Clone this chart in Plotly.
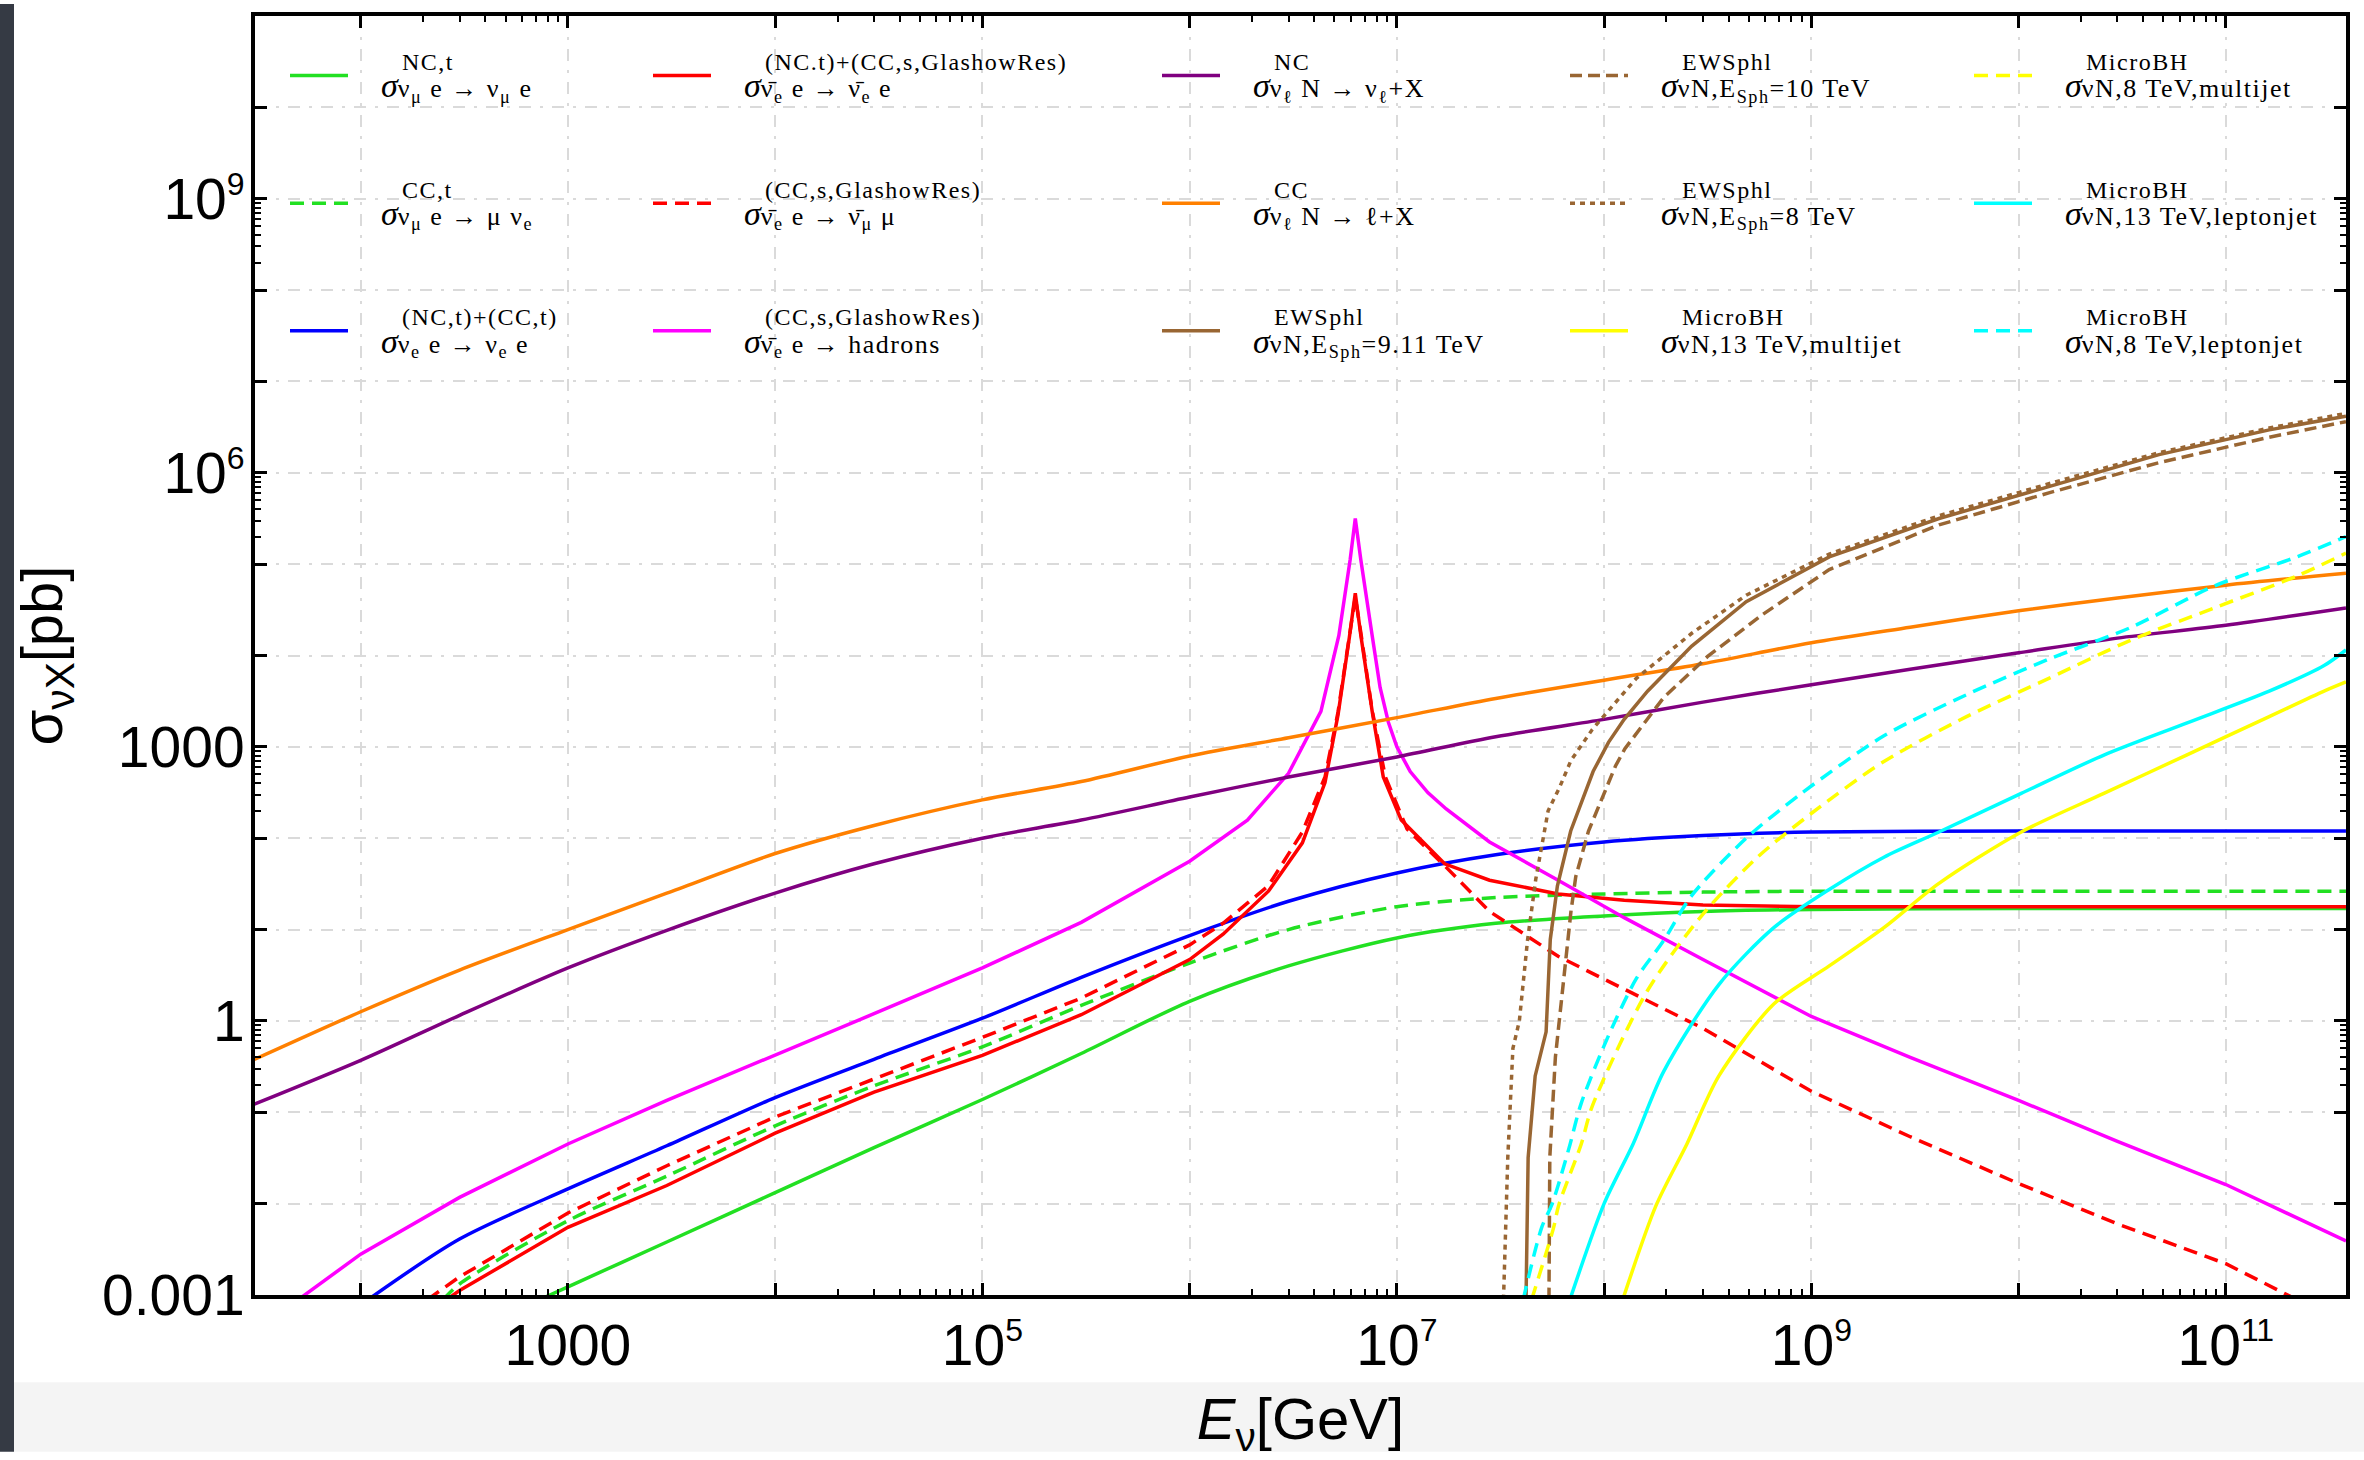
import plotly.graph_objects as go

# ---------------- data ----------------
# energies in GeV, cross sections in pb
E_grid = [30, 100, 300, 1e3, 3e3, 1e4, 3e4, 1e5, 3e5, 1e6, 3e6, 1e7, 3e7, 1e8,
          3e8, 1e9, 3e9, 1e10, 3e10, 1e11, 3.8e11]
sigma_cc_nuN = [0.37, 1.26, 3.6, 10, 25, 68, 138, 263, 417, 794, 1260, 2090,
                3390, 5370, 8130, 13800, 20400, 30900, 42700, 58900, 79400]
sigma_nc_nuN = [0.12, 0.37, 1.15, 3.8, 9.8, 25.1, 52.5, 100, 158, 282, 468, 776,
                1290, 2000, 3090, 4790, 7080, 10700, 15500, 21400, 33100]

E_nue_e = [100, 300, 1e3, 3e3, 1e4, 3e4, 1e5, 3e5, 1e6, 3e6, 1e7, 3e7, 1e8, 3e8,
           1e9, 1e10, 1e11, 3.8e11]
sigma_nue_e = [7.8e-4, 4.1e-3, 1.45e-2, 4.3e-2, 0.145, 0.38, 1.07, 3.0, 8.6, 20.4,
               41.7, 66, 91, 107, 117, 120, 120, 120]

E_numu_nc = [700, 1e3, 3e3, 1e4, 3e4, 1e5, 3e5, 1e6, 3e6, 1e7, 3e7, 1e8, 3e8, 1e9,
             1e10, 1e11, 3.8e11]
sigma_numu_nc = [8.5e-4, 1.23e-3, 3.8e-3, 1.32e-2, 4.1e-2, 0.138, 0.44, 1.64, 4.0,
                 8.1, 11.7, 14.1, 15.8, 16.6, 17.0, 17.0, 17.0]

E_numu_cc = [250, 300, 1e3, 3e3, 1e4, 3e4, 1e5, 3e5, 1e6, 3e6, 1e7, 3e7, 1e8, 3e8,
             1e9, 1e10, 1e11, 3.8e11]
sigma_numu_cc = [8.9e-4, 1.32e-3, 6.5e-3, 2.0e-2, 7.1e-2, 0.195, 0.52, 1.48, 4.3,
                 10, 17.8, 22.4, 24.5, 25.7, 26.3, 26.3, 26.3, 26.3]

E_nuebar_e = [260, 300, 1e3, 3e3, 1e4, 3e4, 1e5, 3e5, 1e6, 1.45e6, 2.4e6, 3.5e6,
              4.5e6, 5.2e6, 5.9e6, 6.3e6, 6.7e6, 7.6e6, 8.6e6, 1.05e7, 1.7e7,
              2.8e7, 6e7, 1.25e8, 3e8, 1e9, 1e10, 1e11, 3.8e11]
sigma_nuebar_e = [8.9e-4, 1.12e-3, 5.5e-3, 1.58e-2, 5.9e-2, 0.166, 0.42, 1.17, 4.7,
                  8.9, 26.3, 89, 407, 2240, 15800, 47900, 16600, 2450, 468, 158,
                  52.5, 34.7, 24.5, 20.9, 18.6, 17.8, 17.8, 17.8, 17.8]

E_nuebar_mu = [210, 300, 1e3, 3e3, 1e4, 3e4, 1e5, 3e5, 1e6, 1.45e6, 2.4e6, 3.5e6,
               4.5e6, 5.2e6, 5.9e6, 6.3e6, 6.7e6, 7.6e6, 8.8e6, 1.12e7, 1.7e7,
               2.8e7, 6e7, 1.25e8, 3e8, 1e9, 3e9, 1e10, 3e10, 1e11, 2.2e11]
sigma_nuebar_mu = [8.9e-4, 1.58e-3, 7.9e-3, 2.6e-2, 8.9e-2, 0.234, 0.66, 1.78, 6.8,
                   11.7, 30.2, 117, 468, 2400, 17800, 43700, 17800, 2510, 468, 126,
                   50, 15.8, 5.1, 2.24, 0.83, 0.17, 5.4e-2, 1.66e-2, 6.0e-3,
                   2.2e-3, 8.9e-4]

E_nuebar_had = [50, 100, 300, 1e3, 3e3, 1e4, 3e4, 1e5, 3e5, 1e6, 1.9e6, 3e6, 4.3e6,
                5.25e6, 5.95e6, 6.3e6, 6.7e6, 7.6e6, 8.3e6, 9.1e6, 1.0e7, 1.16e7,
                1.41e7, 1.73e7, 2.8e7, 6e7, 1.25e8, 3e8, 1e9, 3e9, 1e10, 3e10, 1e11,
                3.8e11]
sigma_nuebar_had = [8.9e-4, 2.8e-3, 1.17e-2, 4.5e-2, 0.135, 0.42, 1.2, 3.8, 12, 56,
                    158, 513, 2450, 16600, 1.12e5, 3.16e5, 1.12e5, 16600, 4470, 1860,
                    1000, 537, 316, 209, 91, 34.7, 13.5, 4.7, 1.12, 0.40, 0.135,
                    4.8e-2, 1.62e-2, 3.9e-3]

E_sph_911 = [4.2e7, 4.3e7, 4.65e7, 5.25e7, 5.5e7, 5.95e7, 6.9e7, 8.85e7, 1.05e8,
             1.25e8, 1.62e8, 2.64e8, 4.85e8, 1.22e9, 4.13e9, 1.4e10, 4.76e10,
             1.62e11, 3.8e11]
sigma_sph_911 = [8.9e-4, 3.2e-2, 0.25, 0.76, 7.8, 30, 120, 537, 1120, 2000, 4070,
                 12600, 38900, 1.2e5, 3.16e5, 7.08e5, 1.58e6, 2.95e6, 4.17e6]

E_sph_10 = [5.42e7, 5.47e7, 5.82e7, 6.46e7, 6.92e7, 7.3e7, 8.41e7, 1.135e8, 1.26e8,
            1.94e8, 3.16e8, 5.83e8, 1.22e9, 4.13e9, 1.4e10, 4.76e10, 1.62e11,
            3.8e11]
sigma_sph_10 = [8.9e-4, 3.2e-2, 0.4, 3.55, 15.8, 38, 120, 617, 955, 3470, 9770,
                28200, 87100, 2.69e5, 6.03e5, 1.29e6, 2.45e6, 3.63e6]

E_sph_8 = [3.27e7, 3.43e7, 3.63e7, 3.9e7, 4.27e7, 4.68e7, 5.37e7, 6.08e7, 6.92e7,
           8.77e7, 1.43e8, 2.64e8, 4.85e8, 1.22e9, 4.13e9, 1.4e10, 4.76e10,
           1.62e11, 3.8e11]
sigma_sph_8 = [8.9e-4, 3.2e-2, 0.5, 1.0, 7.6, 35.5, 200, 355, 708, 1550, 5620,
               17400, 45700, 1.29e5, 3.39e5, 7.59e5, 1.66e6, 3.09e6, 4.47e6]

E_bh13_multi = [1.23e8, 1.78e8, 2.51e8, 3.58e8, 6.59e8, 1.22e9, 2.24e9, 4.13e9,
                1.03e10, 2.58e10, 6.46e10, 1.62e11, 2.98e11, 3.8e11]
sigma_bh13_multi = [8.9e-4, 9.5e-3, 4.5e-2, 0.25, 1.53, 4.0, 10.5, 32, 117, 309,
                    813, 2140, 4070, 5130]

E_bh8_multi = [4.47e7, 5.71e7, 6.03e7, 7.76e7, 8.77e7, 1.61e8, 2.98e8, 5.5e8,
               1.01e9, 2.24e9, 5.61e9, 1.4e10, 3.5e10, 8.77e10, 2.2e11, 3.8e11]
sigma_bh8_multi = [8.9e-4, 5.5e-3, 9.5e-3, 4.5e-2, 0.117, 2.1, 14.5, 62, 190, 692,
                   2140, 5620, 14800, 33100, 74100, 1.32e5]

E_bh13_lepton = [6.84e7, 1.0e8, 1.38e8, 1.94e8, 3.58e8, 6.59e8, 1.22e9, 2.24e9,
                 4.13e9, 1.03e10, 2.58e10, 6.46e10, 1.62e11, 2.98e11, 3.8e11]
sigma_bh13_lepton = [8.9e-4, 1.0e-2, 4.5e-2, 0.28, 2.5, 10.5, 27.5, 62, 117, 309,
                     813, 1820, 4070, 7760, 11500]

E_bh8_lepton = [4.07e7, 5.0e7, 5.62e7, 6.76e7, 7.76e7, 1.05e8, 1.43e8, 1.94e8,
                2.64e8, 4.85e8, 8.95e8, 2.24e9, 5.61e9, 1.4e10, 3.5e10, 8.77e10,
                2.2e11, 3.8e11]
sigma_bh8_lepton = [8.9e-4, 5.5e-3, 1.0e-2, 4.0e-2, 0.126, 0.69, 2.9, 7.6, 23.4,
                    100, 309, 1320, 3720, 9120, 20400, 57500, 1.2e5, 2.0e5]

# tick labels (exponent -> label)
SUP = "<sup><span style='font-size:32px'>{}</span></sup>"
x_tick_labels = {3: "1000", 5: "10" + SUP.format(5), 7: "10" + SUP.format(7),
                 9: "10" + SUP.format(9), 11: "10" + SUP.format(11)}
y_tick_labels = {-3: "0.001", 0: "1", 3: "1000",
                 6: "10" + SUP.format(6), 9: "10" + SUP.format(9)}

# ---------------- styling ----------------
GREEN, RED, BLUE, MAGENTA = "#22e022", "#ff0000", "#0000ff", "#ff00ff"
PURPLE, ORANGE, BROWN = "#800080", "#ff8000", "#996633"
YELLOW, CYAN = "#ffff00", "#00ffff"
DASH = "14px,8px"
NB = "\u00a0"


def leg_label(sup, sub):
    pad = "<span style='font-size:28px'>" + NB * 4 + "</span>"
    sig_pad = "<span style='font-size:28px'>" + NB * 3 + "</span>"
    line1 = (pad + sig_pad +
             "<span style='font-size:24px;letter-spacing:1.5px'>" + sup + "</span>")
    line2 = (pad + "<span style='font-size:34px'><i>σ</i></span>"
             "<span style='font-size:26px;letter-spacing:1.5px'>" + sub + "</span>")
    return line1 + "<br>" + line2


nb_ = "ν\u0304"
series = [
    # (x, y, color, dash, legend, sup, sub, shape)
    (E_numu_nc, sigma_numu_nc, GREEN, "solid", "legend", "NC,t",
     "ν<sub>μ</sub> e → ν<sub>μ</sub> e", "spline"),
    (E_numu_cc, sigma_numu_cc, GREEN, DASH, "legend", "CC,t",
     "ν<sub>μ</sub> e → μ ν<sub>e</sub>", "spline"),
    (E_nue_e, sigma_nue_e, BLUE, "solid", "legend", "(NC,t)+(CC,t)",
     "ν<sub>e</sub> e → ν<sub>e</sub> e", "spline"),
    (E_nuebar_e, sigma_nuebar_e, RED, "solid", "legend2", "(NC.t)+(CC,s,GlashowRes)",
     nb_ + "<sub>e</sub> e → " + nb_ + "<sub>e</sub> e", "linear"),
    (E_nuebar_mu, sigma_nuebar_mu, RED, DASH, "legend2", "(CC,s,GlashowRes)",
     nb_ + "<sub>e</sub> e → " + nb_ + "<sub>μ</sub> μ", "linear"),
    (E_nuebar_had, sigma_nuebar_had, MAGENTA, "solid", "legend2", "(CC,s,GlashowRes)",
     nb_ + "<sub>e</sub> e → hadrons", "linear"),
    (E_grid, sigma_nc_nuN, PURPLE, "solid", "legend3", "NC",
     "ν<sub>ℓ</sub> N → ν<sub>ℓ</sub>+X", "spline"),
    (E_grid, sigma_cc_nuN, ORANGE, "solid", "legend3", "CC",
     "ν<sub>ℓ</sub> N → ℓ+X", "spline"),
    (E_sph_911, sigma_sph_911, BROWN, "solid", "legend3", "EWSphl",
     "νN,E<sub>Sph</sub>=9.11 TeV", "linear"),
    (E_sph_10, sigma_sph_10, BROWN, "12px,6px", "legend4", "EWSphl",
     "νN,E<sub>Sph</sub>=10 TeV", "linear"),
    (E_sph_8, sigma_sph_8, BROWN, "5px,5px", "legend4", "EWSphl",
     "νN,E<sub>Sph</sub>=8 TeV", "linear"),
    (E_bh13_multi, sigma_bh13_multi, YELLOW, "solid", "legend4", "MicroBH",
     "νN,13 TeV,multijet", "spline"),
    (E_bh8_multi, sigma_bh8_multi, YELLOW, DASH, "legend5", "MicroBH",
     "νN,8 TeV,multijet", "spline"),
    (E_bh13_lepton, sigma_bh13_lepton, CYAN, "solid", "legend5", "MicroBH",
     "νN,13 TeV,leptonjet", "spline"),
    (E_bh8_lepton, sigma_bh8_lepton, CYAN, DASH, "legend5", "MicroBH",
     "νN,8 TeV,leptonjet", "spline"),
]

fig = go.Figure()
for i, (xs, ys, col, dash, leg, sup, sub, shape) in enumerate(series):
    fig.add_trace(go.Scatter(
        x=xs, y=ys, mode="lines", name=leg_label(sup, sub),
        line=dict(color=col, width=3.5, dash=dash, shape=shape,
                  smoothing=0.8 if shape == "spline" else None),
        legend=leg, legendgroup="g%d" % i, showlegend=True,
    ))

# ---------------- layout ----------------
W, H = 2364, 1460
ML, MR, MT, MB = 255, 18, 12, 158
PW, PH = W - ML - MR, H - MT - MB


def px_x(px):
    return (px - ML) / PW


def px_y(py):
    return 1 - (py - MT) / PH


x_major = [10.0 ** k for k in range(2, 12)]
x_text = [x_tick_labels.get(k, "") for k in range(2, 12)]
x_minor = [j * 10.0 ** (k - 1) for k in x_tick_labels for j in range(2, 10)]
y_major = [10.0 ** k for k in range(-3, 12)]
y_text = [y_tick_labels.get(k, "") for k in range(-3, 12)]
y_minor = [j * 10.0 ** (k - 1) for k in y_tick_labels if k > -3 for j in range(2, 10)]

axis_common = dict(
    type="log", showline=True, linecolor="black", linewidth=4, mirror="ticks",
    ticks="inside", ticklen=12, tickwidth=2.5, tickcolor="black",
    tickfont=dict(family="Liberation Sans", size=57, color="black"),
    zeroline=False, tickmode="array",
    showgrid=True, gridcolor="#dadada", gridwidth=2, griddash="12px,9px,3px,9px",
)
minor_ticks = dict(tickmode="array", ticks="inside", ticklen=6, tickwidth=2,
                   tickcolor="black", showgrid=False)

legend_common = dict(
    xanchor="left", yanchor="top", bgcolor="rgba(0,0,0,0)", borderwidth=0,
    font=dict(family="Liberation Serif", size=21, color="black"),
    tracegroupgap=70, traceorder="grouped", itemwidth=58, itemclick=False,
)
leg_y = px_y(38)
col_x = [285, 648, 1157, 1565, 1969]

fig.update_layout(
    width=W, height=H, autosize=False,
    margin=dict(l=ML, r=MR, t=MT, b=MB, pad=0),
    paper_bgcolor="white", plot_bgcolor="white",
    font=dict(family="Liberation Sans", color="black"),
    xaxis=dict(
        range=[1.49, 11.58], tickvals=x_major, ticktext=x_text,
        ticklabelstandoff=-2,
        minor=dict(tickvals=x_minor, **minor_ticks),
        title=dict(text="<i>E</i><sub>ν</sub>[GeV]", standoff=30,
                   font=dict(family="Liberation Sans", size=58, color="black")),
        **axis_common,
    ),
    yaxis=dict(
        range=[-3, 11], tickvals=y_major, ticktext=y_text,
        ticklabelstandoff=-5,
        minor=dict(tickvals=y_minor, **minor_ticks),
        title=dict(text="σ<sub>νX</sub>[pb]", standoff=22,
                   font=dict(family="Liberation Sans", size=58, color="black")),
        **axis_common,
    ),
    legend=dict(x=px_x(col_x[0]), y=leg_y, **legend_common),
    legend2=dict(x=px_x(col_x[1]), y=leg_y, **legend_common),
    legend3=dict(x=px_x(col_x[2]), y=leg_y, **legend_common),
    legend4=dict(x=px_x(col_x[3]), y=leg_y, **legend_common),
    legend5=dict(x=px_x(col_x[4]), y=leg_y, **legend_common),
    shapes=[
        # slide background around the figure (screenshot framing)
        dict(type="rect", xref="paper", yref="paper", layer="below",
             x0=px_x(14), x1=px_x(W), y0=px_y(H), y1=px_y(1390),
             fillcolor="#f4f4f4", line=dict(width=0)),
        dict(type="rect", xref="paper", yref="paper", layer="below",
             x0=px_x(0), x1=px_x(14), y0=px_y(H), y1=px_y(0),
             fillcolor="#353a44", line=dict(width=0)),
    ],
    showlegend=True,
)

fig.write_html("out.html")
